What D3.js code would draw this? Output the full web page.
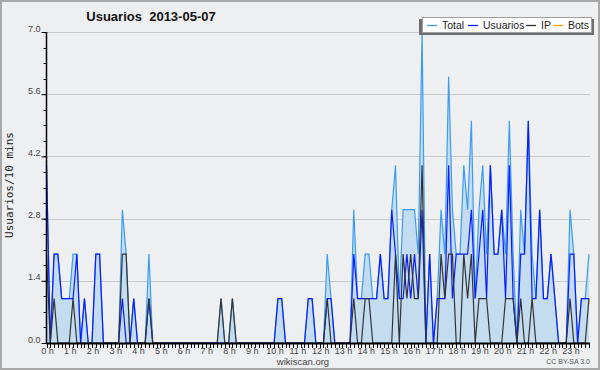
<!DOCTYPE html>
<html>
<head>
<meta charset="utf-8">
<script src="https://cdn.jsdelivr.net/npm/d3@7"></script>
<style>
  body { margin: 0; background: #fff; }
  svg { display: block; }
</style>
</head>
<body>
<svg id="chart" width="600" height="370"></svg>
<script>
// 10 minute slots, 0 h .. 23:50
var totalData = [
  4,0,2,2,1,1,1,2,2,0, 1,0,0,2,2,0,0,0,0,0, 3,2,0,1,0,0,0,2,0,0,
  0,0,0,0,0,0,0,0,0,0, 0,0,0,0,0,0,1,0,0,1, 0,0,0,0,0,0,0,0,0,0,
  0,1,1,0,0,0,0,0,0,1, 1,0,0,0,2,1,0,0,0,0, 0,3,1,1,2,2,1,1,2,1,
  1,3,4,1,3,3,3,3,2,7, 0,2,0,1,3,2,6,3,2,2, 4,3,5,1,3,4,2,4,2,2,
  3,2,5,2,0,3,2,5,2,1, 3,1,1,2,1,0,0,0,3,2, 0,1,1,2
];
var usuariosData = [
  4,0,2,2,1,1,1,1,2,0, 1,0,0,2,2,0,0,0,0,0, 1,0,0,1,0,0,0,1,0,0,
  0,0,0,0,0,0,0,0,0,0, 0,0,0,0,0,0,0,0,0,0, 0,0,0,0,0,0,0,0,0,0,
  0,1,1,0,0,0,0,0,0,1, 1,0,0,0,1,1,0,0,0,0, 0,2,1,1,1,1,1,1,2,1,
  1,3,2,1,1,2,1,2,1,3, 0,2,0,1,1,1,4,1,2,2, 2,2,3,1,2,3,1,4,2,2,
  3,1,4,1,0,2,2,5,1,1, 3,1,1,2,1,0,0,0,2,2, 0,1,1,1
];
var ipData = [
  2,0,1,0,0,0,0,1,0,0, 0,0,0,0,0,0,0,0,0,0, 2,2,0,0,0,0,0,1,0,0,
  0,0,0,0,0,0,0,0,0,0, 0,0,0,0,0,0,1,0,0,1, 0,0,0,0,0,0,0,0,0,0,
  0,0,0,0,0,0,0,0,0,0, 0,0,0,0,1,0,0,0,0,0, 0,1,0,0,1,1,0,0,0,0,
  0,0,2,0,2,1,2,1,1,4, 0,0,0,0,2,1,2,2,0,0, 2,1,2,0,1,1,1,0,0,0,
  0,1,1,1,0,1,0,0,1,0, 0,0,0,0,0,0,0,0,1,0, 0,0,0,1
];
var botsData = [
  0,0,0,0,0,0,0,0,0,0, 0,0,0,0,0,0,0,0,0,0, 0,0,0,0,0,0,0,0,0,0,
  0,0,0,0,0,0,0,0,0,0, 0,0,0,0,0,0,0,0,0,0, 0,0,0,0,0,0,0,0,0,0,
  0,0,0,0,0,0,0,0,0,0, 0,0,0,0,0,0,0,0,0,0, 0,0,0,0,0,0,0,0,0,0,
  0,0,0,0,0,0,0,0,0,0, 0,0,0,0,0,0,0,0,0,0, 0,0,0,0,0,0,0,0,0,0,
  0,0,0,0,0,0,0,0,0,0, 0,0,0,0,0,0,0,0,0,0, 0,0,0,0
];
var yTicks = [0, 1.4, 2.8, 4.2, 5.6, 7.0];
var hourLabels = d3.range(24).map(function(h){ return h + " h"; });
var seriesNames = ["Total", "Usuarios", "IP", "Bots"];
var seriesColors = ["#3c9cf2", "#0a1cff", "#333333", "#ffa000"];

var svg = d3.select("#chart");
var plotL = 46.5, plotR = 589, plotT = 32, plotB = 343;

var x = d3.scaleLinear().domain([0, 143]).range([plotL, plotR]);
var y = d3.scaleLinear().domain([0, 7]).range([plotB, plotT]);

// background + frame
svg.append("rect").attr("x", 1).attr("y", 1).attr("width", 598).attr("height", 368)
  .attr("fill", "#eeeff1").attr("stroke", "#a8a8a8").attr("stroke-width", 2);

// grid
svg.append("g").selectAll("line")
  .data(yTicks.slice(1))
  .enter().append("line")
  .attr("x1", plotL).attr("x2", plotR + 1)
  .attr("y1", function(d){ return Math.round(y(d)) + 0.5; })
  .attr("y2", function(d){ return Math.round(y(d)) + 0.5; })
  .attr("stroke", "#c8c9cb").attr("stroke-width", 1);

// total area
var area = d3.area()
  .x(function(d, i){ return x(i); })
  .y0(y(0))
  .y1(function(d){ return y(d); });
svg.append("path").datum(totalData)
  .attr("d", area)
  .attr("fill", "#c4dcf0");

var line = d3.line()
  .x(function(d, i){ return x(i); })
  .y(function(d){ return y(d); });

[totalData, usuariosData, ipData, botsData].forEach(function(s, k){
  if (k == 3) return;  // bots are all zero, hidden under the axis
  svg.append("path").datum(s)
    .attr("d", line)
    .attr("fill", "none")
    .attr("stroke", seriesColors[k])
    .attr("stroke-width", 1.2)
    .attr("stroke-linejoin", "miter");
});

// y axis
var yAxis = d3.axisLeft(y).tickValues(yTicks).tickSize(5).tickFormat(d3.format(".1f"));
var gy = svg.append("g").attr("transform", "translate(" + plotL + ",0)").call(yAxis);
gy.select(".domain").remove();
gy.selectAll(".tick text").attr("font-family", "Liberation Sans").attr("font-size", 9)
  .attr("fill", "#444").attr("x", -6).attr("dy", "-0.1em");
gy.selectAll(".tick line").attr("stroke", "#000");
svg.append("g").selectAll("line")
  .data(d3.range(0, 7.01, 0.35))
  .enter().append("line")
  .attr("x1", plotL - 3).attr("x2", plotL)
  .attr("y1", function(d){ return Math.round(y(d)) + 0.5; })
  .attr("y2", function(d){ return Math.round(y(d)) + 0.5; })
  .attr("stroke", "#000");
svg.append("line").attr("x1", plotL).attr("x2", plotL)
  .attr("y1", plotT).attr("y2", plotB + 1)
  .attr("stroke", "#000").attr("stroke-width", 1.5);

// x axis
svg.append("line").attr("x1", plotL).attr("x2", plotR + 1)
  .attr("y1", plotB + 0.5).attr("y2", plotB + 0.5)
  .attr("stroke", "#000").attr("stroke-width", 2);
svg.append("g").selectAll("line")
  .data(d3.range(0, 144))
  .enter().append("line")
  .attr("x1", function(d){ return Math.round(x(d)) + 0.5; })
  .attr("x2", function(d){ return Math.round(x(d)) + 0.5; })
  .attr("y1", plotB).attr("y2", plotB + 5)
  .attr("stroke", "#000");
svg.append("g").selectAll("text")
  .data(hourLabels)
  .enter().append("text")
  .attr("x", function(d, i){ return x(i * 6) + 1; })
  .attr("y", 354)
  .attr("text-anchor", "middle")
  .attr("font-family", "Liberation Sans").attr("font-size", 9).attr("fill", "#444")
  .text(function(d){ return d; });

// titles
svg.append("text").attr("x", 151).attr("y", 21).attr("text-anchor", "middle")
  .attr("font-family", "Liberation Sans").attr("font-weight", "bold").attr("font-size", 13)
  .attr("fill", "#111").attr("xml:space", "preserve")
  .text("Usuarios  2013-05-07");
svg.append("text").attr("transform", "translate(13,185) rotate(-90)")
  .attr("text-anchor", "middle")
  .attr("font-family", "DejaVu Sans Mono").attr("font-size", 11).attr("fill", "#222")
  .text("Usuarios/10 mins");
svg.append("text").attr("x", 303).attr("y", 365).attr("text-anchor", "middle")
  .attr("font-family", "Liberation Sans").attr("font-size", 9.5).attr("fill", "#444")
  .text("wikiscan.org");
svg.append("text").attr("x", 590).attr("y", 364).attr("text-anchor", "end")
  .attr("font-family", "Liberation Sans").attr("font-size", 7).attr("fill", "#555")
  .text("CC BY-SA 3.0");

// legend
var lg = svg.append("g");
lg.append("rect").attr("x", 419).attr("y", 19).attr("width", 175).attr("height", 16).attr("fill", "#6e6e6e");
lg.append("rect").attr("x", 422.5).attr("y", 17.5).attr("width", 169).attr("height", 15)
  .attr("fill", "#fff").attr("stroke", "#a0a0a0");
var legX = [427, 468, 526, 553];
seriesNames.forEach(function(name, i){
  lg.append("line")
    .attr("x1", legX[i]).attr("x2", legX[i] + 10)
    .attr("y1", 25.5).attr("y2", 25.5)
    .attr("stroke", seriesColors[i]).attr("stroke-width", 1.3);
  lg.append("text")
    .attr("x", legX[i] + 15).attr("y", 29)
    .attr("font-family", "Liberation Sans").attr("font-size", 10.5).attr("fill", "#222")
    .text(name);
});
</script>
</body>
</html>
